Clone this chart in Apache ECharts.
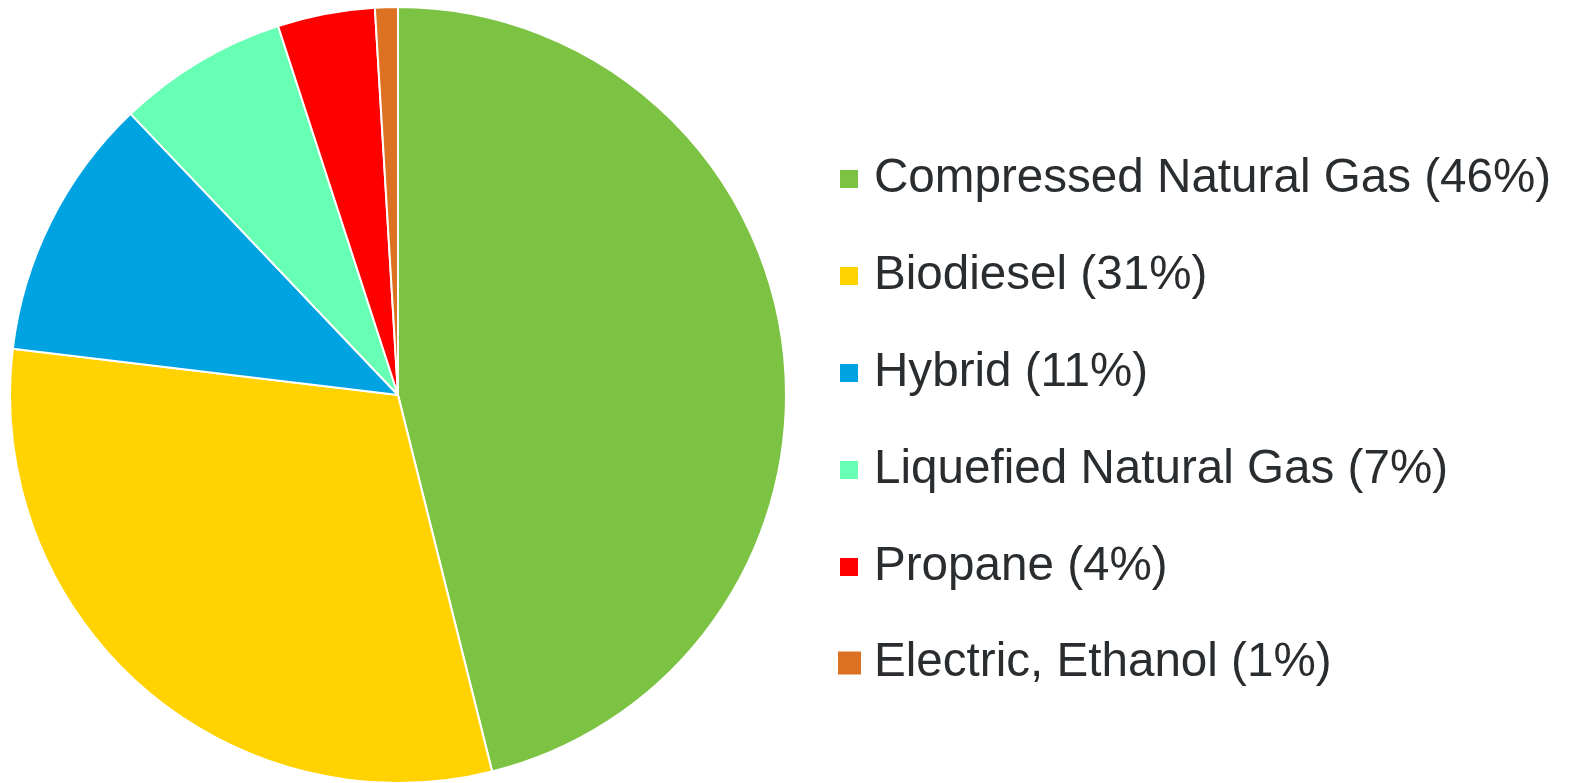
<!DOCTYPE html>
<html>
<head>
<meta charset="utf-8">
<script src="https://cdn.jsdelivr.net/npm/echarts@6/dist/echarts.min.js"></script>
<style>
  html, body { margin: 0; padding: 0; background: #fff; }
  #chart { width: 1569px; height: 783px; }
</style>
</head>
<body>
<div id="chart"></div>
<script>
  // 分类 / 数值 / 颜色
  var fuelNames = ['Compressed Natural Gas (46%)', 'Biodiesel (31%)', 'Hybrid (11%)',
    'Liquefied Natural Gas (7%)', 'Propane (4%)', 'Electric, Ethanol (1%)'];
  var fuelShares = [46.1, 30.8, 11.0, 7.1, 4.05, 0.95];
  var fuelColors = ['#7cc243', '#ffd200', '#00a3e1', '#66ffb3', '#ff0000', '#dc7122'];

  var pieData = fuelNames.map(function (n, i) {
    return { name: n, value: fuelShares[i], itemStyle: { color: fuelColors[i] } };
  });

  var legendText = {
    fontFamily: 'Liberation Sans, Arial, sans-serif',
    fontSize: 47.6,
    lineHeight: 50,
    color: '#2a2d30'
  };

  var myChart = echarts.init(document.getElementById('chart'));
  myChart.setOption({
    animation: false,
    legend: [{
      orient: 'vertical',
      left: 838,
      top: 154,
      padding: 0,
      itemWidth: 20,
      itemHeight: 20,
      itemGap: 47,
      icon: 'rect',
      selectedMode: false,
      data: fuelNames.slice(0, 5),
      textStyle: Object.assign({ padding: [0, 0, 0, 10] }, legendText)
    }, {
      orient: 'vertical',
      left: 836,
      top: 638,
      padding: 0,
      itemWidth: 25,
      itemHeight: 25,
      icon: 'rect',
      selectedMode: false,
      data: fuelNames.slice(5),
      textStyle: Object.assign({ padding: [0, 0, 0, 7] }, legendText)
    }],
    series: [{
      type: 'pie',
      center: [398, 395],
      radius: 388,
      startAngle: 90,
      clockwise: true,
      label: { show: false },
      labelLine: { show: false },
      emphasis: { disabled: true },
      itemStyle: { borderColor: '#fff', borderWidth: 2 },
      data: pieData
    }]
  });
</script>
</body>
</html>
